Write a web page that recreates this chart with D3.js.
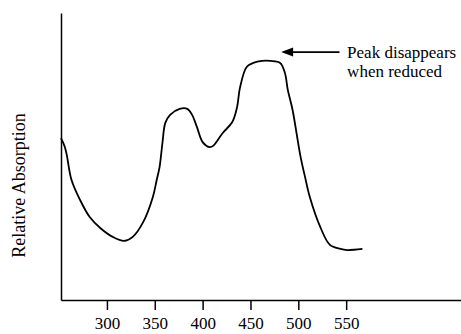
<!DOCTYPE html>
<html lang="en">
<head>
  <meta charset="UTF-8">
  <title>Relative Absorption</title>
  <script src="https://cdn.jsdelivr.net/npm/d3@7"></script>
  <style>
    body { margin: 0; background: #fff; }
    svg { display: block; }
    svg text { font-family: "Liberation Serif", "DejaVu Serif", serif !important; fill: #000; }
  </style>
</head>
<body>
  <div id="chart"></div>
  <script>
    // wavelength (nm) and relative absorption
    const wavelength = [252, 254, 256, 258, 263, 272, 282, 293, 306, 318, 327, 338, 348, 352, 355, 358, 361, 366, 376, 384,
      389, 394, 400, 407, 411, 421, 431, 436, 439, 446, 453, 462, 471, 481, 486, 489, 494, 502, 507, 512, 523, 533, 544, 551, 567]
    const absorption = [56.4, 55, 53.3, 50.6, 41.8, 34.8, 28.9, 25.1, 22, 20.6, 22, 27.2, 35.9, 41.8, 46.3, 54.7, 61.7, 64.5, 66.6, 66.6,
      64.5, 60.3, 55, 53.3, 53.7, 58.2, 62, 67.2, 73.9, 81.2, 82.6, 83.3, 83.3, 82.6, 79.1, 73.2, 66.2, 50.5, 42.9, 35.9, 25.4, 19.2, 17.8, 17.4, 17.8]
    const xTicks = [300, 350, 400, 450, 500, 550]
    const noteLines = ["Peak disappears", "when reduced"]

    const width = 461
    const height = 334
    const marginLeft = 61, marginTop = 13, axisY = 300
    const serif = '"Liberation Serif", "DejaVu Serif", serif'

    const data = wavelength.map((w, i) => ({ w: w, a: absorption[i] }))

    const svg = d3.select("#chart")
      .append("svg")
      .attr("width", width)
      .attr("height", height)
      .attr("font-family", serif)

    const x = d3.scaleLinear()
      .domain([252, 670])
      .range([marginLeft, width])

    const y = d3.scaleLinear()
      .domain([0, 100])
      .range([axisY, marginTop])

    const xAxis = svg.append("g")
      .attr("transform", `translate(0, ${axisY})`)
      .call(d3.axisBottom(x).tickValues(xTicks).tickSize(10).tickSizeOuter(0).tickPadding(7))
      .attr("font-family", serif)
      .attr("font-size", 17)
    xAxis.select(".domain").attr("stroke-width", 1.5)
    xAxis.selectAll(".tick line").attr("stroke-width", 1.5)
    xAxis.selectAll(".tick text").attr("fill", "#000")

    const yAxis = svg.append("g")
      .attr("transform", `translate(${marginLeft}, 0)`)
      .call(d3.axisLeft(y).tickValues([]).tickSizeOuter(0))
    yAxis.select(".domain").attr("stroke-width", 1.5)

    svg.append("text")
      .attr("transform", `translate(25, ${(marginTop + axisY) / 2 + 29}) rotate(-90)`)
      .attr("text-anchor", "middle")
      .attr("font-size", 18)
      .text("Relative Absorption")

    const line = d3.line()
      .x(d => x(d.w))
      .y(d => y(d.a))
      .curve(d3.curveCatmullRom.alpha(0.5))

    svg.append("path")
      .datum(data)
      .attr("fill", "none")
      .attr("stroke", "#000")
      .attr("stroke-width", 1.8)
      .attr("d", line)

    // annotation arrow
    const tip = { w: 482, a: 86.4 }
    const tail = { w: 543, a: 86.4 }
    svg.append("line")
      .attr("x1", x(tail.w))
      .attr("y1", y(tail.a))
      .attr("x2", x(tip.w) + 8)
      .attr("y2", y(tip.a))
      .attr("stroke", "#000")
      .attr("stroke-width", 1.8)
    svg.append("path")
      .attr("d", `M${x(tip.w)},${y(tip.a)} l12,-4.5 l0,9 z`)
      .attr("fill", "#000")

    svg.append("g")
      .selectAll("text")
      .data(noteLines)
      .join("text")
      .attr("x", x(551))
      .attr("y", (d, i) => y(tip.a) + 6 + i * 19)
      .attr("font-size", 17)
      .text(d => d)
  </script>
</body>
</html>
